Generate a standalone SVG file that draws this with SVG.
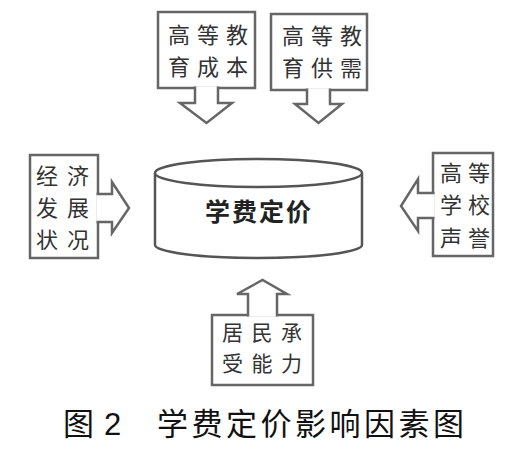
<svg xmlns="http://www.w3.org/2000/svg" width="529" height="451" viewBox="0 0 529 451">
<style>
.box{fill:#fff;stroke:#666;stroke-width:2.5}
.cyl{fill:#fff;stroke:#555;stroke-width:2.5}
.arr{fill:#fff;stroke:#666;stroke-width:2.5;stroke-linejoin:miter}
.t{font-family:"Noto Sans CJK SC","Noto Sans CJK JP",sans-serif;font-size:22px;fill:#333;letter-spacing:7px}
.tc{font-family:"Noto Sans CJK SC",sans-serif;font-size:25px;font-weight:bold;fill:#222;letter-spacing:2px}
.cap{font-family:"Noto Sans CJK SC",sans-serif;font-size:31px;fill:#111}
</style>
<rect width="529" height="451" fill="#fff"/>
<g id="node-cost">
<rect class="box" x="158" y="12" width="97" height="76"/>
<text class="t" x="168" y="43">高等教<tspan x="168" dy="32">育成本</tspan></text>
</g>
<g id="node-supply">
<rect class="box" x="271" y="14" width="96" height="76"/>
<text class="t" x="282" y="44">高等教<tspan x="282" dy="32">育供需</tspan></text>
</g>
<g id="node-economy">
<rect class="box" x="30" y="155" width="68" height="103"/>
<text class="t" x="36" y="183.5" style="letter-spacing:9px">经济<tspan x="36" dy="32">发展</tspan><tspan x="36" dy="32">状况</tspan></text>
</g>
<g id="node-reputation">
<rect class="box" x="433" y="153" width="60" height="103"/>
<text class="t" x="440" y="180.5" style="letter-spacing:6px">高等<tspan x="440" dy="32.5">学校</tspan><tspan x="440" dy="32.5">声誉</tspan></text>
</g>
<g id="node-residents">
<rect class="box" x="212" y="315" width="101" height="70"/>
<text class="t" x="222" y="339.5" style="font-size:21px;letter-spacing:8.5px">居民承<tspan x="222" dy="31">受能力</tspan></text>
</g>
<g id="node-tuition">
<path class="cyl" d="M155,173 L155,245 A103.5,13 0 0 0 362,245 L362,173"/>
<ellipse class="cyl" cx="258.5" cy="173" rx="103.5" ry="14"/>
<text class="tc" x="205" y="221">学费定价</text>
</g>
<g id="connectors">
<path class="arr" d="M195,86.5 L195,103 L180,103 L206.5,123 L232,103 L218,103 L218,86.5"/>
<path class="arr" d="M307,88.5 L307,104 L295,104 L318.5,123 L342,104 L330,104 L330,88.5"/>
<path class="arr" d="M96.5,194 L112,194 L112,182 L129,208 L112,233 L112,222 L96.5,222"/>
<path class="arr" d="M434.5,193 L418,193 L418,179 L401,206 L418,231 L418,218 L434.5,218"/>
<path class="arr" d="M248,316.5 L248,294 L237,294 L262.5,280 L287,294 L277,294 L277,316.5"/>
</g>
<g id="caption">
<text class="cap" x="63" y="435">图</text>
<text class="cap" x="104" y="435" style="font-family:'Liberation Sans',sans-serif">2</text>
<text class="cap" x="157" y="435" style="letter-spacing:3.5px">学费定价影响因素图</text>
</g>
</svg>
